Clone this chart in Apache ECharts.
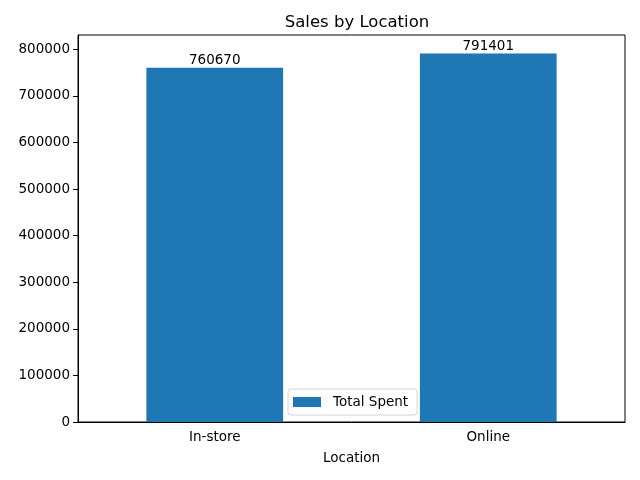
<!DOCTYPE html>
<html>
<head>
    <meta charset="utf-8">
    <title>Sales by Location</title>
    <script src="https://cdn.jsdelivr.net/npm/echarts@6/dist/echarts.min.js"></script>
</head>
<body style="margin:0;padding:0;background:#fff;">
<div id="main" style="margin:0px;padding:0px;width:640px;height:480px;"></div>
<script type="text/javascript">
    // data
    var locations = ['In-store', 'Online'];
    var totalSpent = [760670, 791401];
    var seriesName = 'Total Spent';

    var myChart = echarts.init(document.getElementById('main'));
    var font = 'DejaVu Sans';

    var option = {
        backgroundColor: '#ffffff',
        animation: false,
        textStyle: { fontFamily: font },
        title: {
            text: 'Sales by Location',
            left: 352,
            top: 9,
            textAlign: 'center',
            textStyle: { fontFamily: font, fontSize: 16.5, fontWeight: 'normal', color: '#000' }
        },
        legend: {
            data: [seriesName],
            left: 288,
            top: 389,
            icon: 'rect',
            itemWidth: 28,
            itemHeight: 10,
            padding: [6, 9, 6, 5],
            borderColor: '#d4d4d4',
            borderWidth: 1,
            borderRadius: 3,
            backgroundColor: 'rgba(255,255,255,0.8)',
            textStyle: { fontFamily: font, fontSize: 13.5, color: '#000', padding: [0, 0, 0, 7] }
        },
        grid: {
            left: 78, right: 15, top: 35, bottom: 58,
            show: true,
            borderColor: '#000',
            borderWidth: 1,
            containLabel: false
        },
        xAxis: {
            type: 'category',
            data: locations,
            name: 'Location',
            nameLocation: 'middle',
            nameGap: 29,
            nameTextStyle: { fontFamily: font, fontSize: 13.5, color: '#000' },
            axisLine: { lineStyle: { color: '#000', width: 1 } },
            axisTick: { alignWithLabel: true, length: 5, lineStyle: { color: '#000' } },
            axisLabel: { fontFamily: font, fontSize: 13.5, color: '#000', margin: 8 }
        },
        yAxis: {
            type: 'value',
            min: 0,
            max: 830971,
            interval: 100000,
            splitLine: { show: false },
            axisLine: { show: true, lineStyle: { color: '#000', width: 1 } },
            axisTick: { show: true, length: 5, lineStyle: { color: '#000' } },
            axisLabel: {
                fontFamily: font, fontSize: 13.5, color: '#000', margin: 8, showMaxLabel: false,
                formatter: function (v) { return String(v); }
            }
        },
        series: [{
            name: seriesName,
            type: 'bar',
            data: totalSpent,
            barWidth: '50%',
            itemStyle: { color: '#1f77b4' },
            label: {
                show: true,
                position: 'top',
                distance: 0,
                fontFamily: font,
                fontSize: 13.5,
                color: '#000'
            }
        }]
    };

    myChart.setOption(option);
</script>
</body>
</html>
